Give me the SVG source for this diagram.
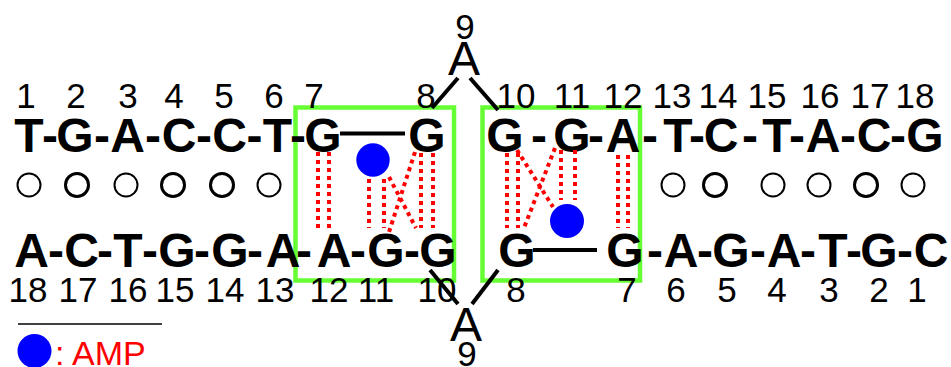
<svg xmlns="http://www.w3.org/2000/svg" width="951" height="367" viewBox="0 0 951 367">
<style>
.b{font-family:"Liberation Sans",Arial,sans-serif;font-weight:bold;font-size:48px;text-anchor:middle;fill:#000}
.n{font-family:"Liberation Sans",Arial,sans-serif;font-size:35px;text-anchor:middle;fill:#000}
.l{font-family:"Liberation Sans",Arial,sans-serif;font-size:48px;text-anchor:middle;fill:#000}
.pc{fill:none;stroke:#000;stroke-width:2}
.pt{fill:none;stroke:#000;stroke-width:3}
.box{fill:none;stroke:#66ff33;stroke-width:4.5}
.bk{stroke:#000;stroke-width:4;fill:none}
.dt{stroke:#ff0000;stroke-width:4;stroke-dasharray:4 4;fill:none}
.amp{fill:#0000ff}
</style>
<rect width="951" height="367" fill="#fff"/>
<g id="boxes">
<rect class="box" x="295.5" y="107.5" width="158.5" height="173"/>
<rect class="box" x="482.5" y="107.5" width="157.5" height="173"/>
</g>
<g id="top-numbers">
<text class="n" x="26" y="108">1</text><text class="n" x="76" y="108">2</text><text class="n" x="128" y="108">3</text><text class="n" x="174" y="108">4</text><text class="n" x="224" y="108">5</text><text class="n" x="274" y="108">6</text><text class="n" x="314" y="108">7</text><text class="n" x="426" y="108">8</text><text class="n" x="516" y="108">10</text><text class="n" x="572" y="108">11</text><text class="n" x="623" y="108">12</text><text class="n" x="672" y="108">13</text><text class="n" x="718" y="108">14</text><text class="n" x="767" y="108">15</text><text class="n" x="820" y="108">16</text><text class="n" x="870" y="108">17</text><text class="n" x="915" y="108">18</text>
</g>
<g id="top-strand">
<text class="b" x="29" y="152">T</text><text class="b" x="50" y="152">-</text>
<text class="b" x="75" y="152">G</text><text class="b" x="102" y="152">-</text>
<text class="b" x="127.5" y="152">A</text><text class="b" x="153" y="152">-</text>
<text class="b" x="179" y="152">C</text><text class="b" x="204" y="152">-</text>
<text class="b" x="229.5" y="152">C</text><text class="b" x="254.5" y="152">-</text>
<text class="b" x="277.5" y="152">T</text><text class="b" x="298" y="152">-</text>
<text class="b" x="323" y="152">G</text>
<text class="b" x="427" y="152">G</text>
<text class="b" x="505" y="152">G</text><text class="b" x="539" y="152">-</text>
<text class="b" x="572" y="152">G</text><text class="b" x="596" y="152">-</text>
<text class="b" x="623" y="152">A</text><text class="b" x="650" y="152">-</text>
<text class="b" x="678" y="152">T</text><text class="b" x="697" y="152">-</text>
<text class="b" x="721" y="152">C</text><text class="b" x="750" y="152">-</text>
<text class="b" x="777" y="152">T</text><text class="b" x="797" y="152">-</text>
<text class="b" x="823" y="152">A</text><text class="b" x="848" y="152">-</text>
<text class="b" x="874" y="152">C</text><text class="b" x="898" y="152">-</text>
<text class="b" x="925" y="152">G</text>
</g>
<g id="pairs">
<circle class="pc" cx="29" cy="185" r="11.5"/><circle class="pt" cx="77" cy="185" r="11.5"/><circle class="pc" cx="126" cy="185" r="11.5"/><circle class="pt" cx="173" cy="185" r="11.5"/><circle class="pt" cx="222" cy="185" r="11.5"/><circle class="pc" cx="269" cy="185" r="11.5"/>
<circle class="pc" cx="673" cy="185" r="11.5"/><circle class="pt" cx="715" cy="185" r="11.5"/><circle class="pc" cx="773" cy="185" r="11.5"/><circle class="pc" cx="819" cy="185" r="11.5"/><circle class="pt" cx="866" cy="185" r="11.5"/><circle class="pc" cx="913" cy="185" r="11.5"/>
</g>
<g id="bottom-strand">
<text class="b" x="31.5" y="267">A</text><text class="b" x="56" y="267">-</text>
<text class="b" x="81.5" y="267">C</text><text class="b" x="105" y="267">-</text>
<text class="b" x="128" y="267">T</text><text class="b" x="150" y="267">-</text>
<text class="b" x="177" y="267">G</text><text class="b" x="202" y="267">-</text>
<text class="b" x="230" y="267">G</text><text class="b" x="255" y="267">-</text>
<text class="b" x="283" y="267">A</text><text class="b" x="304" y="267">-</text>
<text class="b" x="334" y="267">A</text><text class="b" x="358" y="267">-</text>
<text class="b" x="386" y="267">G</text><text class="b" x="412" y="267">-</text>
<text class="b" x="438" y="267">G</text>
<text class="b" x="517" y="267">G</text>
<text class="b" x="625" y="267">G</text><text class="b" x="655" y="267">-</text>
<text class="b" x="681" y="267">A</text><text class="b" x="705" y="267">-</text>
<text class="b" x="731" y="267">G</text><text class="b" x="758" y="267">-</text>
<text class="b" x="784" y="267">A</text><text class="b" x="808" y="267">-</text>
<text class="b" x="833" y="267">T</text><text class="b" x="854" y="267">-</text>
<text class="b" x="879" y="267">G</text><text class="b" x="905" y="267">-</text>
<text class="b" x="931" y="267">C</text>
</g>
<g id="bottom-numbers">
<text class="n" x="28" y="302">18</text><text class="n" x="78" y="302">17</text><text class="n" x="128" y="302">16</text><text class="n" x="175" y="302">15</text><text class="n" x="225" y="302">14</text><text class="n" x="275" y="302">13</text><text class="n" x="329" y="302">12</text><text class="n" x="376" y="302">11</text><text class="n" x="437" y="302">10</text><text class="n" x="516" y="302">8</text><text class="n" x="627" y="302">7</text><text class="n" x="676" y="302">6</text><text class="n" x="727" y="302">5</text><text class="n" x="777" y="302">4</text><text class="n" x="829" y="302">3</text><text class="n" x="879" y="302">2</text><text class="n" x="917" y="302">1</text>
</g>
<g id="loop-top">
<text class="n" x="465" y="39">9</text>
<text class="l" x="464" y="75">A</text>
</g>
<g id="loop-bottom">
<text class="l" x="466" y="341">A</text>
<text class="n" x="467" y="366">9</text>
</g>
<g id="amp-left"><circle class="amp" cx="373" cy="160" r="16.7"/></g>
<g id="amp-right"><circle class="amp" cx="567" cy="221" r="17"/></g>
<g id="connectors">
<line class="bk" x1="340" y1="133.5" x2="405" y2="133.5"/>
<line class="bk" x1="533" y1="250" x2="597" y2="250"/>
<line class="bk" x1="458" y1="78" x2="432" y2="108"/>
<line class="bk" x1="470" y1="78" x2="498" y2="110"/>
<line class="bk" x1="430" y1="270" x2="458" y2="304"/>
<line class="bk" x1="498" y1="270" x2="472" y2="304"/>
<line class="dt" x1="318" y1="152" x2="318" y2="228"/>
<line class="dt" x1="329" y1="152" x2="329" y2="228"/>
<line class="dt" x1="369" y1="179" x2="369" y2="228"/>
<line class="dt" x1="384" y1="179" x2="384" y2="228"/>
<line class="dt" x1="415" y1="152" x2="389" y2="232"/>
<line class="dt" x1="389" y1="177" x2="416" y2="228"/>
<line class="dt" x1="421" y1="153" x2="421" y2="228"/>
<line class="dt" x1="433" y1="153" x2="433" y2="228"/>
<line class="dt" x1="507" y1="153" x2="507" y2="228"/>
<line class="dt" x1="518" y1="153" x2="518" y2="228"/>
<line class="dt" x1="517" y1="150" x2="553" y2="207"/>
<line class="dt" x1="555" y1="148" x2="524" y2="228"/>
<line class="dt" x1="561" y1="150" x2="561" y2="200"/>
<line class="dt" x1="575" y1="150" x2="575" y2="200"/>
<line class="dt" x1="618" y1="155" x2="618" y2="228"/>
<line class="dt" x1="628" y1="155" x2="628" y2="228"/>
</g>
<g id="legend">
<line x1="18" y1="324" x2="162" y2="324" stroke="#000" stroke-width="1.5"/>
<circle class="amp" cx="34.5" cy="351" r="17"/>
<text x="55" y="365" font-family="Liberation Sans, Arial, sans-serif" font-size="34" fill="#ff0000">: AMP</text>
</g>
</svg>
